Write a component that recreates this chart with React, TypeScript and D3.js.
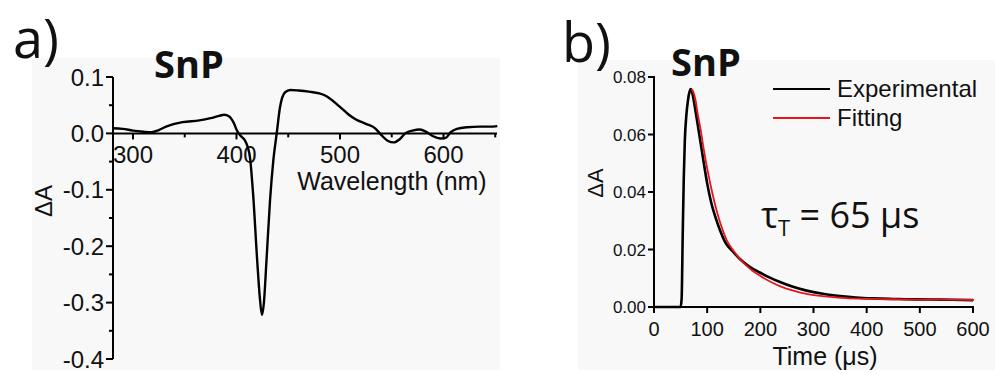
import React from "react";
import * as d3 from "d3";

// Panel a: transient absorption spectrum
const wavelengthNm = [280, 290, 300, 310, 318, 325, 332, 348, 364, 375, 383, 388, 393, 397, 401, 405, 408, 411, 413, 416, 420, 422.5, 424.6, 426.5, 429, 432.4, 435.6, 439, 442, 447, 452, 460, 470, 480, 487, 493, 500, 508, 515, 525, 534, 540, 546, 552, 558, 563, 570, 577, 584, 590, 597, 602, 607, 613, 623, 635, 645, 652];
const deltaA = [0.009, 0.008, 0.005, 0.003, 0.002, 0.006, 0.012, 0.02, 0.023, 0.027, 0.031, 0.033, 0.03, 0.02, 0.003, -0.006, -0.012, -0.025, -0.042, -0.106, -0.225, -0.29, -0.322, -0.3, -0.225, -0.119, -0.048, 0.002, 0.046, 0.073, 0.077, 0.076, 0.074, 0.071, 0.066, 0.058, 0.047, 0.034, 0.025, 0.017, 0.009, -0.003, -0.013, -0.016, -0.01, 0.0, 0.005, 0.007, 0.002, -0.005, -0.009, -0.008, 0.002, 0.008, 0.011, 0.012, 0.012, 0.013];
const xTicksA = [300, 400, 500, 600];
const xMinorA = [350, 450, 550, 650];
const yTicksA = [0.1, 0.0, -0.1, -0.2, -0.3, -0.4];
const yTickLabelsA = ["0.1", "0.0", "-0.1", "-0.2", "-0.3", "-0.4"];
const yMinorA = [0.05, -0.05, -0.15, -0.25, -0.35];

// Panel b: kinetic trace
const timeExp = [0, 10, 20, 30, 40, 50, 52, 54, 56, 58, 61, 64, 67, 69, 72, 76, 80, 86, 92, 100, 108, 116, 124, 135, 149, 162, 180, 199, 218, 237, 260, 287, 320, 350, 380, 412, 450, 474, 520, 560, 600];
const valExp = [0, 0, 0, 0, 0, 0, 0.003, 0.025, 0.045, 0.058, 0.067, 0.072, 0.075, 0.0758, 0.0745, 0.0705, 0.066, 0.059, 0.052, 0.043, 0.036, 0.031, 0.0268, 0.0222, 0.0192, 0.0166, 0.014, 0.012, 0.0102, 0.0087, 0.0071, 0.0057, 0.0045, 0.0038, 0.0033, 0.003, 0.0028, 0.0027, 0.0026, 0.0025, 0.0024];
const timeFit = [69, 72, 76, 80, 86, 92, 100, 108, 116, 124, 135, 149, 162, 180, 199, 218, 237, 260, 287, 320, 350, 380, 412, 450, 500, 550, 600];
const valFit = [0.0758, 0.0748, 0.0722, 0.0675, 0.0615, 0.0545, 0.0465, 0.0395, 0.0335, 0.0285, 0.0232, 0.0192, 0.0162, 0.0131, 0.0107, 0.0087, 0.0071, 0.0057, 0.0045, 0.0037, 0.0032, 0.0029, 0.0028, 0.0027, 0.0026, 0.0026, 0.0025];
const xTicksB = [0, 100, 200, 300, 400, 500, 600];
const yTicksB = [0, 0.02, 0.04, 0.06, 0.08];
const yTickLabelsB = ["0.00", "0.02", "0.04", "0.06", "0.08"];
const legendLabels = ["Experimental", "Fitting"];

const SANS = "Arial, 'Liberation Sans', sans-serif";
const CAL = "'Open Sans', 'Noto Sans', sans-serif";

export default function App() {
  const xA = d3.scaleLinear().domain([280.7, 651.7]).range([113, 497]);
  const yA = d3.scaleLinear().domain([-0.4, 0.1]).range([359, 77]);
  const xB = d3.scaleLinear().domain([0, 600]).range([654, 973]);
  const yB = d3.scaleLinear().domain([0, 0.08]).range([307, 77]);

  const lineA = d3
    .line<number>()
    .x((_, i) => xA(wavelengthNm[i]))
    .y((d) => yA(d))
    .curve(d3.curveMonotoneX);
  const lineExp = d3
    .line<number>()
    .x((_, i) => xB(timeExp[i]))
    .y((d) => yB(d))
    .curve(d3.curveMonotoneX);
  const lineFit = d3
    .line<number>()
    .x((_, i) => xB(timeFit[i]))
    .y((d) => yB(d))
    .curve(d3.curveMonotoneX);

  const y0A = yA(0);

  return (
    <svg width={995} height={374} style={{ position: "absolute", left: 0, top: 0, background: "#fff" }}>
      <rect x={32} y={58} width={468} height={312} fill="#f8f8f9" />
      <rect x={578} y={60} width={417} height={310} fill="#f8f8f9" />

      {/* Panel a */}
      <text x={13} y={58} fontFamily={CAL} fontSize={54} fill="#111">a)</text>
      <text x={154} y={78} fontFamily={CAL} fontWeight={700} fontSize={38} fill="#111">SnP</text>

      <line x1={113} x2={113} y1={yA(0.1)} y2={yA(-0.4)} stroke="#000" strokeWidth={2} />
      {yTicksA.map((t, i) => (
        <g key={"ya" + i}>
          <line x1={106} x2={113} y1={yA(t)} y2={yA(t)} stroke="#000" strokeWidth={2} />
          <text x={104} y={yA(t)} dy="0.36em" textAnchor="end" fontFamily={SANS} fontSize={24} fill="#111">
            {yTickLabelsA[i]}
          </text>
        </g>
      ))}
      {yMinorA.map((t, i) => (
        <line key={"yma" + i} x1={109} x2={113} y1={yA(t)} y2={yA(t)} stroke="#000" strokeWidth={2} />
      ))}
      <line x1={112} x2={497} y1={y0A} y2={y0A} stroke="#000" strokeWidth={2} />
      {xTicksA.map((t) => (
        <g key={"xa" + t}>
          <line x1={xA(t)} x2={xA(t)} y1={y0A} y2={y0A + 6} stroke="#000" strokeWidth={2} />
          <text x={xA(t)} y={163} textAnchor="middle" fontFamily={SANS} fontSize={24} fill="#111">{t}</text>
        </g>
      ))}
      {xMinorA.map((t) => (
        <line key={"xma" + t} x1={xA(t)} x2={xA(t)} y1={y0A} y2={y0A + 4} stroke="#000" strokeWidth={2} />
      ))}
      <text x={392} y={190} textAnchor="middle" fontFamily={SANS} fontSize={25} fill="#111">Wavelength (nm)</text>
      <text transform={`translate(52,201) rotate(-90)`} textAnchor="middle" fontFamily={SANS} fontSize={24} fill="#111">ΔA</text>
      <path d={lineA(deltaA) || ""} fill="none" stroke="#000" strokeWidth={2.4} />

      {/* Panel b */}
      <text x={562} y={62} fontFamily={CAL} fontSize={54} fill="#111">b)</text>
      <text x={671} y={76} fontFamily={CAL} fontWeight={700} fontSize={38} fill="#111">SnP</text>

      <line x1={654} x2={654} y1={yB(0.08) - 1} y2={yB(0) + 1} stroke="#000" strokeWidth={2} />
      {yTicksB.map((t, i) => (
        <g key={"yb" + i}>
          <line x1={648} x2={654} y1={yB(t)} y2={yB(t)} stroke="#000" strokeWidth={2} />
          <text x={646} y={yB(t)} dy="0.36em" textAnchor="end" fontFamily={SANS} fontSize={17} fill="#111">
            {yTickLabelsB[i]}
          </text>
        </g>
      ))}
      <line x1={653} x2={974} y1={yB(0)} y2={yB(0)} stroke="#000" strokeWidth={2} />
      {xTicksB.map((t) => (
        <g key={"xb" + t}>
          <line x1={xB(t)} x2={xB(t)} y1={yB(0)} y2={yB(0) + 6} stroke="#000" strokeWidth={2} />
          <text x={xB(t)} y={336} textAnchor="middle" fontFamily={SANS} fontSize={20} fill="#111">{t}</text>
        </g>
      ))}
      <text x={825} y={365} textAnchor="middle" fontFamily={SANS} fontSize={25} fill="#111">Time (μs)</text>
      <text transform={`translate(603,183) rotate(-90)`} textAnchor="middle" fontFamily={SANS} fontSize={22} fill="#111">ΔA</text>

      <path d={lineExp(valExp) || ""} fill="none" stroke="#000" strokeWidth={2.6} />
      <path d={lineFit(valFit) || ""} fill="none" stroke="#e8141a" strokeWidth={1.8} transform="translate(1,0)" />

      {/* Legend */}
      <line x1={773} x2={830} y1={89} y2={89} stroke="#000" strokeWidth={2} />
      <text x={837} y={97} fontFamily={SANS} fontSize={24} fill="#111">{legendLabels[0]}</text>
      <line x1={773} x2={830} y1={118} y2={118} stroke="#e8141a" strokeWidth={2} />
      <text x={837} y={126} fontFamily={SANS} fontSize={24} fill="#111">{legendLabels[1]}</text>

      <text x={761} y={228} fontFamily={CAL} fontSize={36} fill="#111">
        τ<tspan fontSize={22} dy={8}>T</tspan>
        <tspan dy={-8}> = 65 μs</tspan>
      </text>
    </svg>
  );
}
